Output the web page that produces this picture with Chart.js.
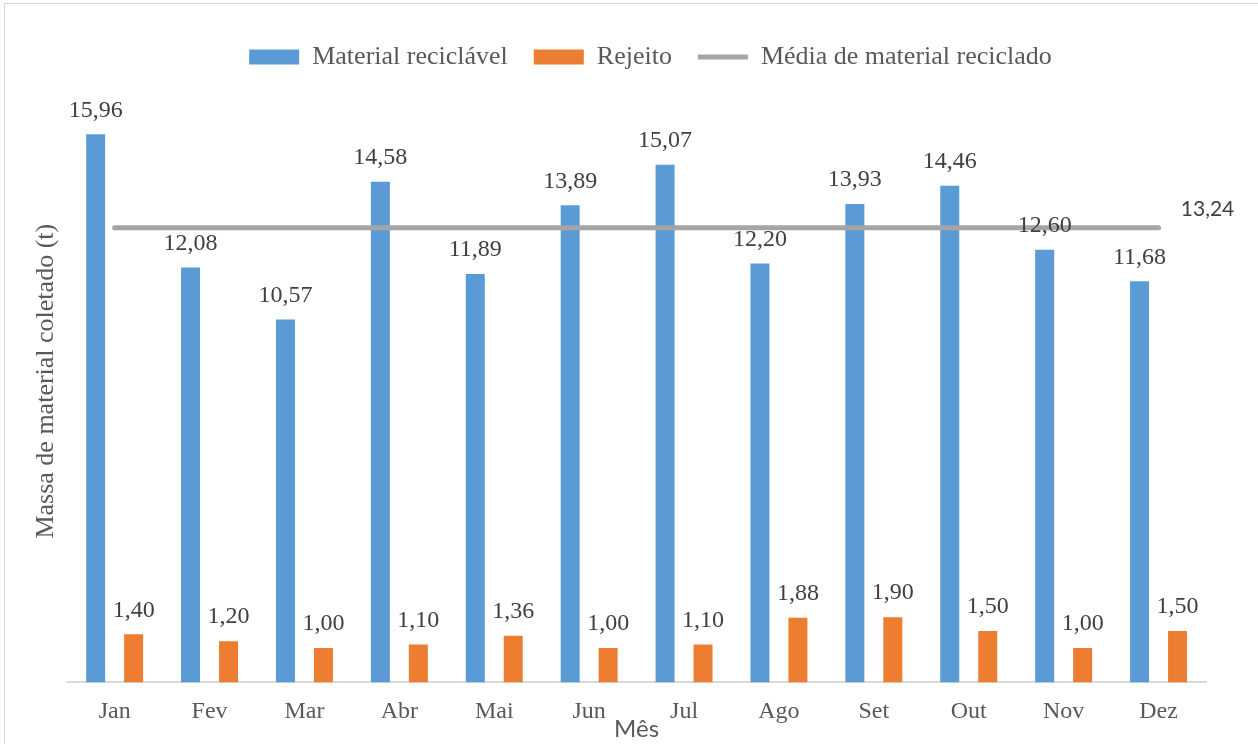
<!DOCTYPE html>
<html>
<head>
<meta charset="utf-8">
<script src="https://cdn.jsdelivr.net/npm/chart.js@4/dist/chart.umd.min.js"></script>
<style>
  html, body { margin: 0; padding: 0; background: #fff; overflow: hidden; }
  #wrap { position: relative; width: 1258px; height: 744px; }
  #frame { position: absolute; left: 4px; top: 3px; width: 2000px; height: 2000px;
           border: 1px solid #d6d6d6; pointer-events: none; }
</style>
</head>
<body>
<div id="wrap">
  <canvas id="chart"></canvas>
  <div id="frame"></div>
</div>
<script>
// Dados por mês
const months = ['Jan', 'Fev', 'Mar', 'Abr', 'Mai', 'Jun', 'Jul', 'Ago', 'Set', 'Out', 'Nov', 'Dez'];
const recyclableValues = [15.96, 12.08, 10.57, 14.58, 11.89, 13.89, 15.07, 12.20, 13.93, 14.46, 12.60, 11.68];
const rejectValues = [1.40, 1.20, 1.00, 1.10, 1.36, 1.00, 1.10, 1.88, 1.90, 1.50, 1.00, 1.50];
const averageValues = [13.24, 13.24, 13.24, 13.24, 13.24, 13.24, 13.24, 13.24, 13.24, 13.24, 13.24, 13.24];

const fmt = v => v.toFixed(2).replace('.', ',');

// rótulos de valor acima das barras + rótulo da média
const valueLabels = {
    id: 'valueLabels',
    afterDatasetsDraw(chart) {
        const ctx = chart.ctx;
        ctx.save();
        ctx.textAlign = 'center';
        ctx.textBaseline = 'middle';
        ctx.fillStyle = '#404040';
        ctx.font = '24px "Liberation Serif"';
        [0, 1].forEach(i => {
            chart.getDatasetMeta(i).data.forEach((bar, j) => {
                ctx.fillText(fmt(chart.data.datasets[i].data[j]), bar.x, bar.y - 24);
            });
        });
        const pts = chart.getDatasetMeta(2).data;
        const last = pts[pts.length - 1];
        ctx.font = '21px Lato';
        ctx.fillText(fmt(averageValues[averageValues.length - 1]), last.x + 49, last.y - 18);
        ctx.restore();
    }
};

// desloca a legenda para a direita (como no Excel)
const legendShift = {
    id: 'legendShift',
    afterLayout(chart) {
        chart.legend.left += 34;
        chart.legend.right += 34;
    }
};

Chart.defaults.font.family = '"Liberation Serif", serif';

new Chart(document.getElementById('chart'), {
    type: 'bar',
    data: {
        labels: months,
        datasets: [
            {
                label: 'Material reciclável',
                data: recyclableValues,
                backgroundColor: '#5B9BD5',
                categoryPercentage: 0.8,
                barPercentage: 0.5,
                order: 1
            },
            {
                label: 'Rejeito',
                data: rejectValues,
                backgroundColor: '#ED7D31',
                categoryPercentage: 0.8,
                barPercentage: 0.5,
                order: 1
            },
            {
                type: 'line',
                label: 'Média de material reciclado',
                data: averageValues,
                borderColor: '#A5A5A5',
                backgroundColor: '#A5A5A5',
                borderWidth: 5,
                borderCapStyle: 'round',
                pointRadius: 0,
                order: 0
            }
        ]
    },
    options: {
        responsive: true,
        maintainAspectRatio: false,
        animation: false,
        layout: { padding: { left: 27, right: 52, top: 18, bottom: 0 } },
        plugins: {
            tooltip: { enabled: false },
            legend: {
                position: 'top',
                labels: {
                    usePointStyle: true,
                    pointStyleWidth: 50,
                    boxHeight: 15,
                    padding: 26,
                    color: '#595959',
                    font: { size: 26 },
                    sort: (a, b) => a.datasetIndex - b.datasetIndex,
                    generateLabels(chart) {
                        const items = Chart.defaults.plugins.legend.labels.generateLabels(chart);
                        items.forEach(it => {
                            it.pointStyle = it.datasetIndex === 2 ? 'line' : 'rect';
                        });
                        return items;
                    }
                }
            }
        },
        scales: {
            x: {
                grid: { display: false, drawTicks: false },
                border: { display: true, color: '#d9d9d9', width: 2 },
                ticks: { color: '#595959', font: { size: 24 }, padding: 15 },
                title: {
                    display: true,
                    text: 'Mês',
                    color: '#595959',
                    font: { family: 'Lato', size: 24 },
                    padding: { top: -26, bottom: 0 }
                }
            },
            y: {
                min: 0,
                max: 17.54,
                grid: { display: false, drawTicks: false },
                border: { display: false },
                ticks: { display: false },
                title: {
                    display: true,
                    text: 'Massa de material coletado (t)',
                    color: '#595959',
                    font: { size: 26 },
                    padding: { top: 4, bottom: 5 }
                }
            }
        }
    },
    plugins: [valueLabels, legendShift]
});
</script>
</body>
</html>
